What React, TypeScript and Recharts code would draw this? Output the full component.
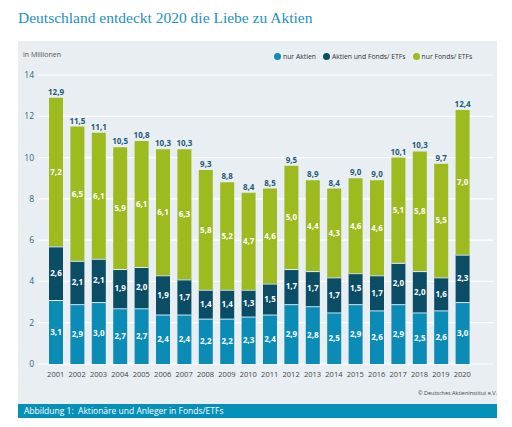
import React from 'react';
import { BarChart, Bar, XAxis, YAxis, CartesianGrid, LabelList } from 'recharts';

const years = ['2001', '2002', '2003', '2004', '2005', '2006', '2007', '2008', '2009', '2010',
  '2011', '2012', '2013', '2014', '2015', '2016', '2017', '2018', '2019', '2020'];
const nurAktien = [3.1, 2.9, 3.0, 2.7, 2.7, 2.4, 2.4, 2.2, 2.2, 2.3, 2.4, 2.9, 2.8, 2.5, 2.9, 2.6, 2.9, 2.5, 2.6, 3.0];
const aktienUndFonds = [2.6, 2.1, 2.1, 1.9, 2.0, 1.9, 1.7, 1.4, 1.4, 1.3, 1.5, 1.7, 1.7, 1.7, 1.5, 1.7, 2.0, 2.0, 1.6, 2.3];
const nurFonds = [7.2, 6.5, 6.1, 5.9, 6.1, 6.1, 6.3, 5.8, 5.2, 4.7, 4.6, 5.0, 4.4, 4.3, 4.6, 4.6, 5.1, 5.8, 5.5, 7.0];
const totals = [12.9, 11.5, 11.1, 10.5, 10.8, 10.3, 10.3, 9.3, 8.8, 8.4, 8.5, 9.5, 8.9, 8.4, 9.0, 9.0, 10.1, 10.3, 9.7, 12.4];
const yTicks = [0, 2, 4, 6, 8, 10, 12, 14];

const data = years.map((year, i) => ({
  year,
  aktien: nurAktien[i],
  beide: aktienUndFonds[i],
  fonds: nurFonds[i],
  total: totals[i],
}));

const COLORS = { aktien: '#0a8cb7', beide: '#0c4d66', fonds: '#9dba1f' };
const SANS = '"Open Sans", "Noto Sans", sans-serif';

const fmt = (v: any) => Number(v).toFixed(1).replace('.', ',');

// rect with a thin light line on top as separator between stacked segments
const SegmentShape = (props: any) => {
  const { x, y, width, height, fill } = props;
  if (!height || height <= 0) return null;
  return (
    <g>
      <rect x={x} y={y} width={width} height={height} fill={fill} />
      <line x1={x} x2={x + width} y1={y + 0.5} y2={y + 0.5} stroke="#eef3f6" strokeWidth={1} />
    </g>
  );
};

const legendItems = [
  { label: 'nur Aktien', color: COLORS.aktien },
  { label: 'Aktien und Fonds/ ETFs', color: COLORS.beide },
  { label: 'nur Fonds/ ETFs', color: COLORS.fonds },
];

export default function App() {
  return (
    <div style={{ position: 'absolute', left: 0, top: 0, width: 512, height: 427, background: '#fff', overflow: 'hidden' }}>
      <div style={{ position: 'absolute', left: 18, top: 9, fontFamily: '"Liberation Serif", serif', fontSize: 15.5, color: '#1b90c0' }}>
        Deutschland entdeckt 2020 die Liebe zu Aktien
      </div>
      <div style={{ position: 'absolute', left: 18, top: 41, width: 479, height: 363, background: '#e9eef2' }} />
      <div style={{ position: 'absolute', left: 23, top: 50, fontFamily: SANS, fontSize: 7, color: '#555' }}>
        in Millionen
      </div>
      <div style={{ position: 'absolute', left: 274, top: 52, display: 'flex', alignItems: 'center', fontFamily: SANS, fontSize: 6.8, color: '#333' }}>
        {legendItems.map((it) => (
          <div key={it.label} style={{ display: 'flex', alignItems: 'center', marginRight: 7 }}>
            <span style={{ width: 7, height: 7, borderRadius: '50%', background: it.color, display: 'inline-block', marginRight: 2 }} />
            {it.label}
          </div>
        ))}
      </div>
      <div style={{ position: 'absolute', right: 15, top: 389, fontFamily: SANS, fontSize: 5.5, color: '#444' }}>
        © Deutsches Aktieninstitut e.V.
      </div>
      <div style={{ position: 'absolute', left: 18, top: 404, width: 479, height: 14, background: '#0590b8', color: '#fff', fontFamily: SANS, fontSize: 8.5, lineHeight: '14px', paddingLeft: 6, boxSizing: 'border-box' }}>
        Abbildung 1:&nbsp; Aktionäre und Anleger in Fonds/ETFs
      </div>
      <div style={{ position: 'absolute', left: 0, top: 0 }}>
        <BarChart width={512} height={427} data={data} margin={{ top: 75, right: 19, bottom: 43, left: 8 }}>
          <CartesianGrid horizontal vertical={false} stroke="#ffffff" strokeWidth={1.2} />
          <XAxis
            dataKey="year"
            height={20}
            axisLine={false}
            tickLine={false}
            tickSize={0}
            tickMargin={8}
            interval={0}
            padding={{ left: 7, right: 20 }}
            tick={{ fill: '#444', fontSize: 7.5, fontFamily: SANS }}
          />
          <YAxis
            width={30}
            domain={[0, 14]}
            ticks={yTicks}
            axisLine={false}
            tickLine={false}
            tickSize={0}
            tickMargin={4}
            tick={{ fill: '#2a6883', fontSize: 8.5, fontFamily: SANS }}
          />
          <Bar dataKey="aktien" name="nur Aktien" stackId="a" fill={COLORS.aktien} barSize={14} shape={<SegmentShape />} isAnimationActive={false}>
            <LabelList dataKey="aktien" position="center" formatter={fmt} fill="#fff" fontSize={8} fontWeight="bold" fontFamily={SANS} />
          </Bar>
          <Bar dataKey="beide" name="Aktien und Fonds/ ETFs" stackId="a" fill={COLORS.beide} barSize={14} shape={<SegmentShape />} isAnimationActive={false}>
            <LabelList dataKey="beide" position="center" formatter={fmt} fill="#fff" fontSize={8} fontWeight="bold" fontFamily={SANS} />
          </Bar>
          <Bar dataKey="fonds" name="nur Fonds/ ETFs" stackId="a" fill={COLORS.fonds} barSize={14} isAnimationActive={false}>
            <LabelList dataKey="fonds" position="center" formatter={fmt} fill="#fff" fontSize={8} fontWeight="bold" fontFamily={SANS} />
            <LabelList dataKey="total" position="top" offset={3} formatter={fmt} fill="#1a5c7c" fontSize={8} fontWeight="bold" fontFamily={SANS} />
          </Bar>
        </BarChart>
      </div>
    </div>
  );
}
